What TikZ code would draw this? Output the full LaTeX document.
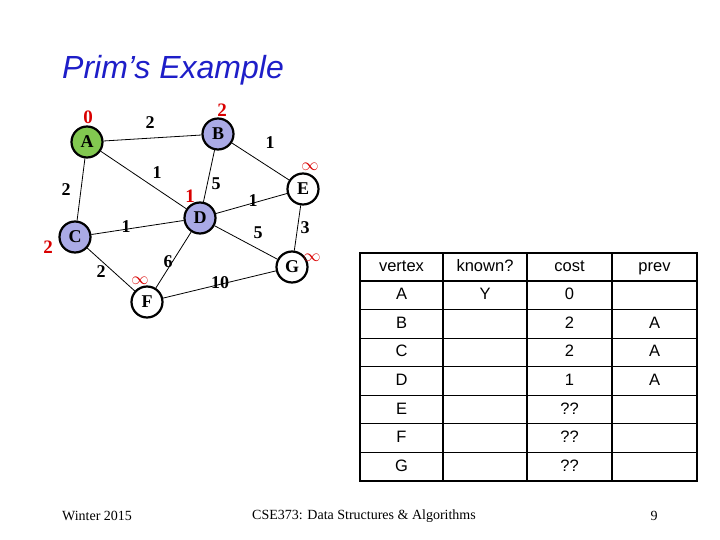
\documentclass[tikz,border=0pt]{standalone}
\usepackage{fontspec}
\setmainfont{Liberation Serif}
\setsansfont{Liberation Sans}
\begin{document}
\begin{tikzpicture}[x=1pt,y=-1pt,
  vtx/.style={circle,draw,line width=2.2pt,minimum size=31pt,inner sep=0pt,font=\fontsize{18}{18}\selectfont\bfseries},
  wt/.style={font=\fontsize{18}{18}\selectfont\bfseries},
  rd/.style={font=\fontsize{19}{19}\selectfont\bfseries,text=red!85!black},
  edge/.style={line width=0.8pt},
  cell/.style={font=\sffamily\fontsize{16.5}{16.5}\selectfont,text height=12pt,text depth=3pt}]
\useasboundingbox (0,0) rectangle (720,540);
\definecolor{vblue}{RGB}{170,170,230}
\definecolor{vgreen}{RGB}{130,200,80}
\definecolor{tblue}{RGB}{30,30,200}
\node[font=\sffamily\itshape\fontsize{32}{32}\selectfont,text=tblue,anchor=west,inner sep=0pt] (title) at (62,70) {Prim’s Example};
\node[vtx,fill=vgreen] (A) at (87,142) {A};
\node[vtx,fill=vblue] (B) at (218,134) {B};
\node[vtx,fill=white] (E) at (303,189) {E};
\node[vtx,fill=vblue] (D) at (200,218) {D};
\node[vtx,fill=vblue] (C) at (75,237) {C};
\node[vtx,fill=white] (G) at (292,267) {G};
\node[vtx,fill=white] (F) at (147,302) {F};
\draw[edge] (A)--(B) (A)--(D) (A)--(C) (B)--(E) (B)--(D) (D)--(E) (C)--(D) (D)--(G) (E)--(G) (C)--(F) (D)--(F) (F)--(G);
\node[wt] (w1) at (150,123) {2};
\node[wt] (w2) at (270,143) {1};
\node[wt] (w3) at (157,173) {1};
\node[wt] (w4) at (216,184) {5};
\node[wt] (w5) at (253,201) {1};
\node[wt] (w6) at (66,190) {2};
\node[wt] (w7) at (126,227) {1};
\node[wt] (w8) at (258,233) {5};
\node[wt] (w9) at (305,228) {3};
\node[wt] (w10) at (101,272) {2};
\node[wt] (w11) at (168,262) {6};
\node[wt] (w12) at (220,283) {10};
\node[rd] (cA) at (88,117) {0};
\node[rd] (cB) at (222,110) {2};
\node[rd] (cD) at (190,196) {1};
\node[rd] (cC) at (48,247) {2};
\node[rd,font=\fontsize{18}{18}\selectfont] (cE) at (310,167) {$\infty$};
\node[rd,font=\fontsize{18}{18}\selectfont] (cG) at (312,258) {$\infty$};
\node[rd,font=\fontsize{18}{18}\selectfont] (cF) at (140,281) {$\infty$};
% table
\draw[line width=1.5pt] (360,253) rectangle (697,481);
\foreach \x in {443,527,612} \draw[line width=1.2pt] (\x,253)--(\x,481);
\draw[line width=1.2pt] (360,281)--(697,281);
\foreach \i in {1,...,6} \draw[line width=1.2pt] (360,281+\i*28.57)--(697,281+\i*28.57);
\node[cell] (h1) at (401.5,267) {vertex};
\node[cell] (h2) at (485,267) {known?};
\node[cell] (h3) at (569.5,267) {cost};
\node[cell] (h4) at (654.5,267) {prev};
\foreach \v/\k/\c/\p [count=\i] in {A/Y/0/,B//2/A,C//2/A,D//1/A,E//??/,F//??/,G//??/}{
  \node[cell] (r\i a) at (401.5,281+\i*28.57-14.3) {\v};
  \node[cell] (r\i b) at (485,281+\i*28.57-14.3) {\k};
  \node[cell] (r\i c) at (569.5,281+\i*28.57-14.3) {\c};
  \node[cell] (r\i d) at (654.5,281+\i*28.57-14.3) {\p};
}
\node[font=\fontsize{14}{14}\selectfont] (f1) at (97,516) {Winter 2015};
\node[font=\fontsize{14}{14}\selectfont] (f2) at (364,516) {CSE373: Data Structures \& Algorithms};
\node[font=\fontsize{14}{14}\selectfont] (f3) at (654,516) {9};
\end{tikzpicture}
\end{document}
